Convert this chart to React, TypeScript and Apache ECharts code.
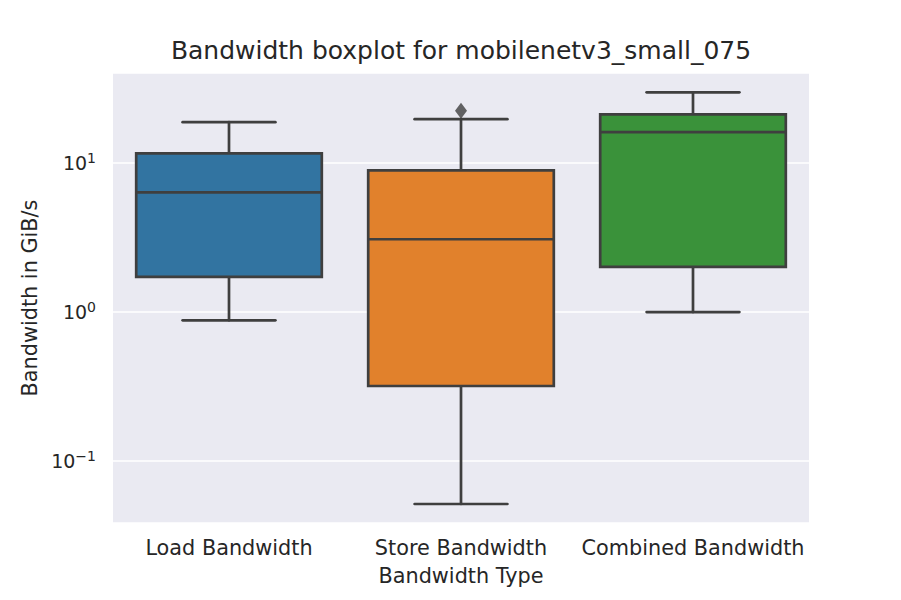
import React, { useEffect, useRef } from "react";
import * as echarts from "echarts";

const categories = ["Load Bandwidth", "Store Bandwidth", "Combined Bandwidth"];
// [low whisker, Q1, median, Q3, high whisker]
const lowWhisker = [0.88, 0.0515, 1.0];
const q1Values = [1.72, 0.319, 2.01];
const medianValues = [6.36, 3.08, 16.1];
const q3Values = [11.6, 8.93, 21.2];
const highWhisker = [18.8, 19.7, 29.8];
const outliers: [number, number][] = [[1, 22.4]];
const boxColors = ["#3274a1", "#e1812c", "#3a923a"];

const FONT = "DejaVu Sans";
const LINE = "#3f3f3f";

export default function App() {
  const ref = useRef<HTMLDivElement>(null);
  useEffect(() => {
    if (!ref.current) return;
    const chart = echarts.init(ref.current, null, { renderer: "svg" });
    const boxData = categories.map((_, i) => [
      i,
      lowWhisker[i],
      q1Values[i],
      medianValues[i],
      q3Values[i],
      highWhisker[i],
    ]);
    const supStyle = { fontFamily: FONT, fontSize: 14, color: "#262626", verticalAlign: "bottom" as const, padding: [0, 0, 10, 0] };
    chart.setOption({
      animation: false,
      title: {
        text: "Bandwidth boxplot for mobilenetv3_small_075",
        left: 456,
        textAlign: "center",
        top: 33,
        textStyle: { fontFamily: FONT, fontSize: 25, fontWeight: "normal", color: "#262626" },
      },
      grid: {
        left: 113,
        right: 92,
        top: 73,
        bottom: 77,
        show: true,
        backgroundColor: "#eaeaf2",
        borderWidth: 0,
      },
      xAxis: {
        type: "category",
        data: categories,
        axisLine: { show: false },
        axisTick: { show: false },
        splitLine: { show: false },
        axisLabel: { fontFamily: FONT, fontSize: 20.8, color: "#262626", margin: 14, interval: 0 },
        name: "Bandwidth Type",
        nameLocation: "middle",
        nameGap: 42,
        nameTextStyle: { fontFamily: FONT, fontSize: 20.8, color: "#262626" },
      },
      yAxis: {
        type: "log",
        logBase: 10,
        min: 0.0384,
        max: 40.2,
        axisLine: { show: false },
        axisTick: { show: false },
        splitLine: { show: true, lineStyle: { color: "#ffffff", width: 1.6 } },
        axisLabel: {
          showMinLabel: false,
          showMaxLabel: false,
          margin: 17,
          fontFamily: FONT,
          fontSize: 19,
          color: "#262626",
          formatter: (v: number) => {
            const e = Math.round(Math.log10(v));
            return "10{sup|" + (e < 0 ? "\u2212" + -e : String(e)) + "}";
          },
          rich: { sup: supStyle },
        },
        name: "Bandwidth in GiB/s",
        nameLocation: "middle",
        nameRotate: 90,
        nameGap: 72,
        nameTextStyle: { fontFamily: FONT, fontSize: 20.8, color: "#262626" },
      },
      series: [
        {
          type: "custom",
          data: boxData,
          dimensions: ["x", "low", "q1", "med", "q3", "high"],
          encode: { x: 0, y: [1, 2, 3, 4, 5] },
          renderItem: (params: any, api: any) => {
            const idx = api.value(0);
            const band = api.size([1, 0])[0];
            const bw = band * 0.8;
            const cw = bw * 0.5;
            const pLow = api.coord([idx, api.value(1)]);
            const pQ1 = api.coord([idx, api.value(2)]);
            const pMed = api.coord([idx, api.value(3)]);
            const pQ3 = api.coord([idx, api.value(4)]);
            const pHigh = api.coord([idx, api.value(5)]);
            const cx = pQ1[0];
            const lw = 2.7;
            const ls = { stroke: LINE, lineWidth: lw, lineCap: "round" };
            return {
              type: "group",
              children: [
                { type: "line", shape: { x1: cx, y1: pQ1[1], x2: cx, y2: pLow[1] }, style: ls },
                { type: "line", shape: { x1: cx, y1: pQ3[1], x2: cx, y2: pHigh[1] }, style: ls },
                { type: "line", shape: { x1: cx - cw / 2, y1: pLow[1], x2: cx + cw / 2, y2: pLow[1] }, style: ls },
                { type: "line", shape: { x1: cx - cw / 2, y1: pHigh[1], x2: cx + cw / 2, y2: pHigh[1] }, style: ls },
                {
                  type: "rect",
                  shape: { x: cx - bw / 2, y: pQ3[1], width: bw, height: pQ1[1] - pQ3[1] },
                  style: { fill: boxColors[params.dataIndex], stroke: LINE, lineWidth: lw },
                },
                { type: "line", shape: { x1: cx - bw / 2, y1: pMed[1], x2: cx + bw / 2, y2: pMed[1] }, style: { stroke: LINE, lineWidth: lw } },
              ],
            };
          },
          z: 3,
        },
        {
          type: "scatter",
          data: outliers,
          symbol: "diamond",
          symbolSize: [12, 16],
          itemStyle: { color: LINE },
          z: 4,
        },
      ],
    });
    return () => chart.dispose();
  }, []);
  return <div ref={ref} style={{ width: 901, height: 600, position: "absolute", left: 0, top: 0 }} />;
}
